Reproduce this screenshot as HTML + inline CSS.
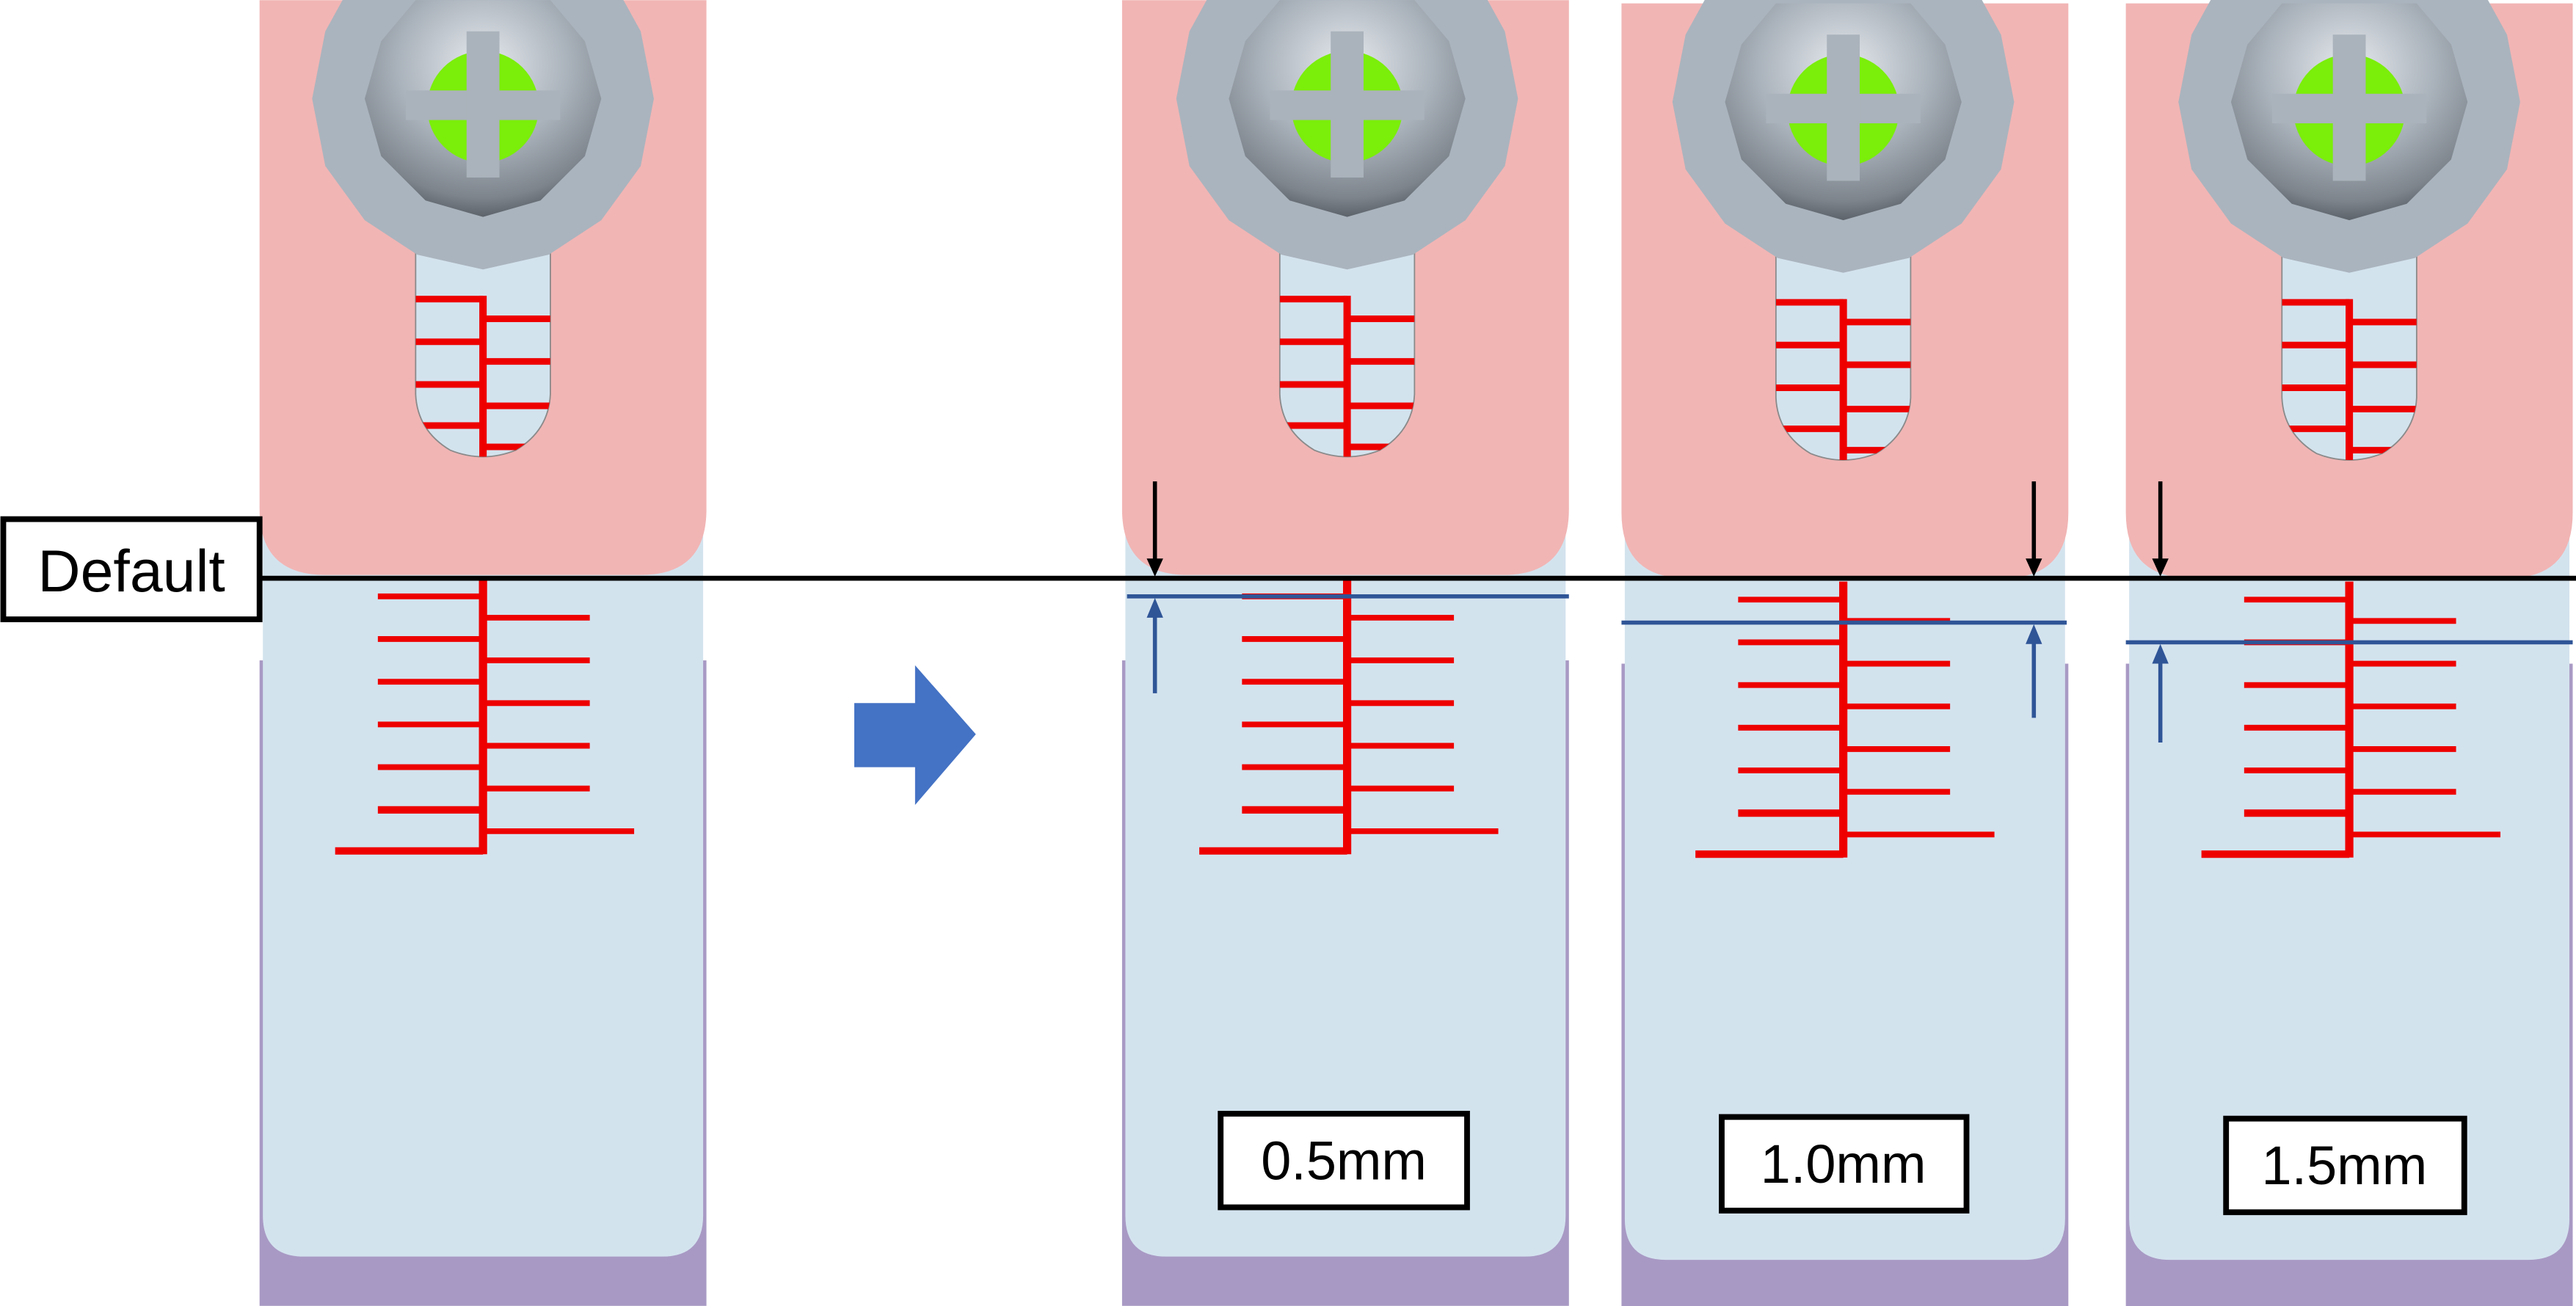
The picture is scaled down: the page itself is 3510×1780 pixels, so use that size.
<!DOCTYPE html>
<html><head><meta charset="utf-8"><style>
html,body{margin:0;padding:0;background:#fff;}
svg{display:block;}
text{font-family:"Liberation Sans",Arial,sans-serif;}
</style></head><body>
<svg width="3510" height="1780" viewBox="0 0 1568 795" xmlns="http://www.w3.org/2000/svg">
<defs>
<radialGradient id="hg" cx="0.5" cy="0.3" r="0.72">
<stop offset="0" stop-color="#e6eaee"/><stop offset="0.5" stop-color="#aab2bb"/><stop offset="0.85" stop-color="#7d848c"/><stop offset="1" stop-color="#555b62"/>
</radialGradient>
<clipPath id="sc"><path d="M-41 140 H41 V240 Q40 262 20 274 Q0 282 -20 274 Q-40 262 -41 240 Z"/></clipPath>
<g id="screw">
<path d="M-41 140 H41 V240 Q40 262 20 274 Q0 282 -20 274 Q-40 262 -41 240 Z" fill="#d3e3ee" stroke="#8a8a8a" stroke-width="0.8"/>
<g clip-path="url(#sc)" stroke="#ee0000" stroke-width="4">
<line x1="0" y1="180" x2="0" y2="285" stroke-width="4.5"/>
<line x1="-45" y1="182" x2="0" y2="182"/><line x1="-45" y1="208" x2="0" y2="208"/>
<line x1="-45" y1="234" x2="0" y2="234"/><line x1="-45" y1="259" x2="0" y2="259"/>
<line x1="0" y1="194" x2="45" y2="194"/><line x1="0" y1="220" x2="45" y2="220"/>
<line x1="0" y1="247" x2="45" y2="247"/><line x1="0" y1="272" x2="45" y2="272"/>
</g>
<polygon points="-80,-10 80,-10 96,19 104,60 96,101 72,134 40,155 0,164 -40,155 -72,134 -96,101 -104,60 -96,19" fill="#aab4be"/>
<polygon points="-41,0 41,0 62,25 72,60 62,95 35,122 0,132 -35,122 -62,95 -72,60 -62,25" fill="url(#hg)"/>
<circle cx="0" cy="65" r="34" fill="#7bee0a"/>
<rect x="-47" y="55" width="94" height="18" fill="#aab2bb"/>
<rect x="-10" y="19" width="20" height="89" fill="#aab2bb"/>
</g>
<g id="thread" stroke="#ee0000" stroke-width="3.5">
<line x1="0" y1="352" x2="0" y2="520" stroke-width="5"/>
<line x1="-64" y1="363" x2="0" y2="363"/><line x1="-64" y1="389" x2="0" y2="389"/>
<line x1="-64" y1="415" x2="0" y2="415"/><line x1="-64" y1="441" x2="0" y2="441"/>
<line x1="-64" y1="467" x2="0" y2="467"/><line x1="-64" y1="493" x2="0" y2="493" stroke-width="4.5"/>
<line x1="0" y1="376" x2="65" y2="376"/><line x1="0" y1="402" x2="65" y2="402"/>
<line x1="0" y1="428" x2="65" y2="428"/><line x1="0" y1="454" x2="65" y2="454"/>
<line x1="0" y1="480" x2="65" y2="480"/>
<line x1="0" y1="506" x2="92" y2="506"/>
<line x1="-90" y1="518" x2="0" y2="518" stroke-width="4.5"/>
</g>
<g id="block">
<rect x="0" y="402" width="272" height="393" fill="#a899c4"/>
<path d="M2 300 H270 V740 Q270 765 245 765 H27 Q2 765 2 740 Z" fill="#d3e3ee"/>
<path d="M0 0 H272 V310 Q272 350 232 350 H40 Q0 350 0 310 Z" fill="#f1b5b4"/>
</g>
</defs>

<g transform="translate(158,0)"><use href="#block"/></g>
<g transform="translate(294,0)"><use href="#screw"/><use href="#thread"/></g>
<g transform="translate(683,0)"><use href="#block"/></g>
<g transform="translate(820,0)"><use href="#screw"/><use href="#thread"/></g>
<g transform="translate(987,2)"><use href="#block"/></g>
<g transform="translate(1122,2)"><use href="#screw"/><use href="#thread"/></g>
<g transform="translate(1294,2)"><use href="#block"/></g>
<g transform="translate(1430,2)"><use href="#screw"/><use href="#thread"/></g>

<line x1="158" y1="352" x2="1568" y2="352" stroke="#000" stroke-width="3"/>
<rect x="2" y="316" width="156" height="61" fill="#fff" stroke="#000" stroke-width="3.5"/>
<text x="80" y="360" font-size="36" text-anchor="middle">Default</text>

<polygon points="520,428 557,428 557,405 594,447 557,490 557,467 520,467" fill="#4472c4"/>

<line x1="686" y1="363" x2="955" y2="363" stroke="#2f5597" stroke-width="2.5"/>
<line x1="703" y1="293" x2="703" y2="342" stroke="#000" stroke-width="2.5"/>
<polygon points="698,340 708,340 703,351" fill="#000"/>
<line x1="703" y1="374" x2="703" y2="422" stroke="#2f5597" stroke-width="2.5"/>
<polygon points="698,376 708,376 703,364" fill="#2f5597"/>
<line x1="987" y1="379" x2="1258" y2="379" stroke="#2f5597" stroke-width="2.5"/>
<line x1="1238" y1="293" x2="1238" y2="342" stroke="#000" stroke-width="2.5"/>
<polygon points="1233,340 1243,340 1238,351" fill="#000"/>
<line x1="1238" y1="390" x2="1238" y2="437" stroke="#2f5597" stroke-width="2.5"/>
<polygon points="1233,392 1243,392 1238,380" fill="#2f5597"/>
<line x1="1294" y1="391" x2="1566" y2="391" stroke="#2f5597" stroke-width="2.5"/>
<line x1="1315" y1="293" x2="1315" y2="342" stroke="#000" stroke-width="2.5"/>
<polygon points="1310,340 1320,340 1315,351" fill="#000"/>
<line x1="1315" y1="402" x2="1315" y2="452" stroke="#2f5597" stroke-width="2.5"/>
<polygon points="1310,404 1320,404 1315,392" fill="#2f5597"/>

<rect x="743" y="678" width="150" height="57" fill="#fff" stroke="#000" stroke-width="3.5"/>
<text x="818" y="718" font-size="33" text-anchor="middle">0.5mm</text>
<rect x="1048" y="680" width="149" height="57" fill="#fff" stroke="#000" stroke-width="3.5"/>
<text x="1122" y="720" font-size="33" text-anchor="middle">1.0mm</text>
<rect x="1355" y="681" width="145" height="57" fill="#fff" stroke="#000" stroke-width="3.5"/>
<text x="1427" y="721" font-size="33" text-anchor="middle">1.5mm</text>
</svg>
</body></html>
